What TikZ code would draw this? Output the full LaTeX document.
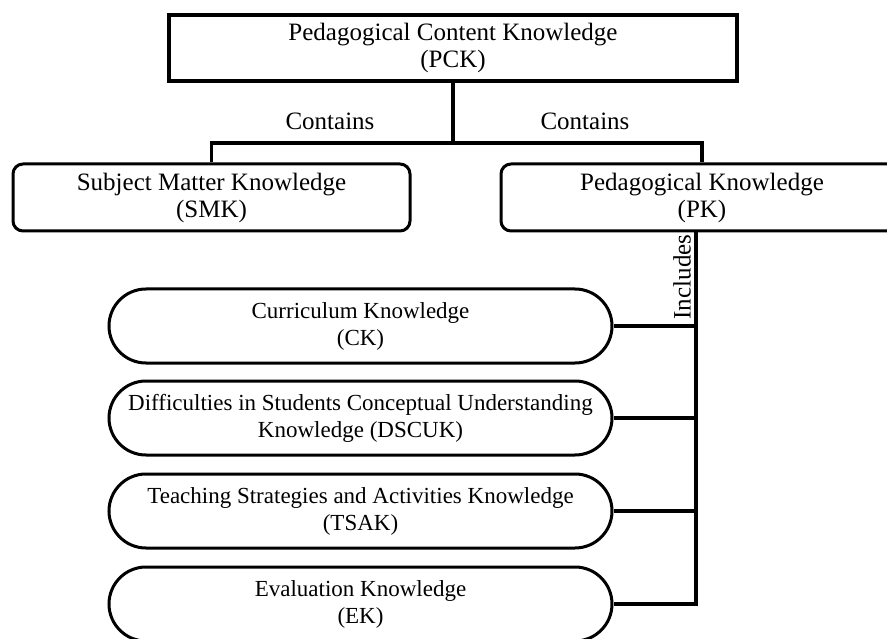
\documentclass[tikz,border=0pt]{standalone}
\usepackage{fontspec}
\setmainfont{Liberation Serif}
\usetikzlibrary{positioning}

\begin{document}
\begin{tikzpicture}[x=1pt,y=-1pt,
  txt/.style={font=\fontsize{25}{27}\selectfont,align=center,inner sep=0pt},
  topbox/.style={txt,draw,line width=3.5pt,minimum height=66pt},
  midbox/.style={txt,draw,line width=3pt,rounded corners=10pt,minimum height=67pt},
  pill/.style={txt,font=\fontsize{23}{27}\selectfont,draw,line width=3pt,rounded corners=37pt,minimum width=503pt,minimum height=74pt},
  link/.style={line width=3.5pt}]
\useasboundingbox (0,0) rectangle (887,639);
\node[topbox,minimum width=568pt] (pck) at (453,48) {Pedagogical Content Knowledge\\(PCK)};
\node[midbox,minimum width=397pt] (smk) at (211.5,197.5) {Subject Matter Knowledge\\(SMK)};
\node[midbox,minimum width=402pt] (pk) at (702,197.5) {Pedagogical Knowledge\\(PK)};
\node[pill] (ck) at (360.5,326) {Curriculum Knowledge\\(CK)};
\node[pill] (dscuk) at (360.5,418) {Difficulties in Students Conceptual Understanding\\Knowledge (DSCUK)};
\node[pill] (tsak) at (360.5,511) {Teaching Strategies and Activities Knowledge\\(TSAK)};
\node[pill] (ek) at (360.5,604) {Evaluation Knowledge\\(EK)};
\coordinate (bus) at (453,143);
\coordinate (spine) at (696,604);
%\draw[red] (0,0) rectangle (887,639);
\draw[link] (pck.south) -- (bus);
\draw[link] (smk.north) -- (smk.north |- bus) -- (pk.north |- bus) -- (pk.north);
\node[txt] (cont1) at (330,121) {Contains};
\node[txt] (cont2) at (585,121) {Contains};
\draw[link] (pk.south -| spine) -- (spine) -- (ek.east);
\foreach \k in {ck,dscuk,tsak}
  \draw[link] (\k.east) -- (\k.east -| spine);
\node[txt,rotate=90] (incl) at (682,277) {Includes};
\end{tikzpicture}
\end{document}
